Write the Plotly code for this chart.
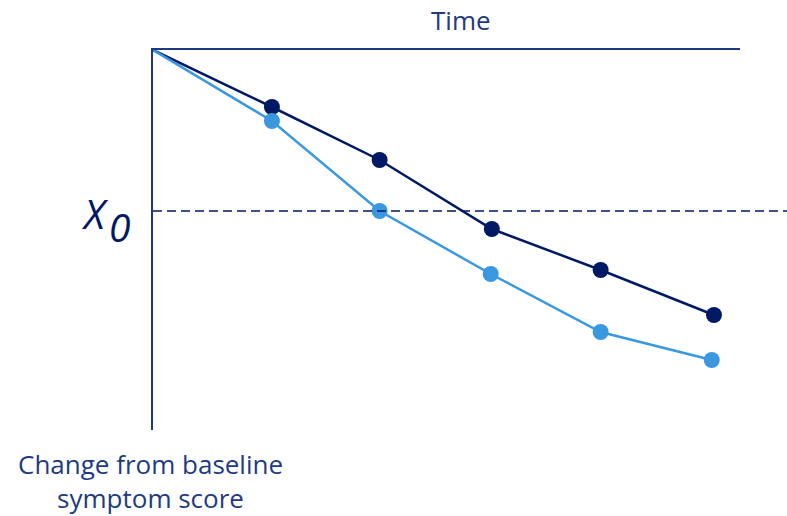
import plotly.graph_objects as go

# Data (arbitrary units, y negative = decrease)
time_dark = [0, 1.06, 2.02, 3.02, 3.99, 5.00]
score_dark = [0, -0.57, -1.10, -1.79, -2.20, -2.65]
time_light = [0, 1.06, 2.02, 3.01, 3.99, 4.98]
score_light = [0, -0.71, -1.61, -2.24, -2.82, -3.10]
x0_level = -1.61

x_range = [0, 5.232]
y_range = [-3.8, 0]

DARK = "#001965"
LIGHT = "#3a98de"
TEXT = "#1f3a7f"
FONT = "Open Sans"

fig = go.Figure()
for xs, ys, c in [(time_dark, score_dark, DARK), (time_light, score_light, LIGHT)]:
    fig.add_trace(go.Scatter(
        x=xs, y=ys, mode="lines+markers",
        line=dict(color=c, width=2.5),
        marker=dict(color=c, size=[0] + [16] * (len(xs) - 1), opacity=1, line=dict(width=0)),
        cliponaxis=False, showlegend=False, hoverinfo="skip",
    ))

# dashed X0 reference line, extends beyond the time axis
fig.add_shape(type="line", xref="paper", yref="y", x0=0, x1=(787 - 153) / 587,
              y0=x0_level, y1=x0_level, line=dict(color=DARK, width=1.3, dash="9px,5px"))

fig.add_annotation(text="<i>X</i>", xref="paper", yref="y", x=0, y=x0_level,
                   xanchor="right", yanchor="middle", xshift=-42, yshift=-2, showarrow=False,
                   font=dict(family=FONT, size=40, color=DARK))
fig.add_annotation(text="<i>0</i>", xref="paper", yref="y", x=0, y=x0_level,
                   xanchor="left", yanchor="middle", xshift=-46, yshift=-15, showarrow=False,
                   font=dict(family=FONT, size=39, color=DARK))
fig.add_annotation(text="Time", xref="paper", yref="paper", x=(461 - 153) / 587, y=1,
                   xanchor="center", yanchor="bottom", yshift=10, showarrow=False,
                   font=dict(family=FONT, size=26, color=TEXT))
fig.add_annotation(text="Change from baseline<br>symptom score", xref="paper", yref="paper",
                   x=0, y=0, xanchor="center", yanchor="top", xshift=-3, yshift=-14,
                   showarrow=False, align="center",
                   font=dict(family=FONT, size=26, color=TEXT))

fig.update_layout(
    width=787, height=516,
    margin=dict(l=153, r=47, t=50, b=86),
    paper_bgcolor="white", plot_bgcolor="white",
    xaxis=dict(range=x_range, side="top", showline=True, linecolor=TEXT, linewidth=2,
               showgrid=False, zeroline=False, showticklabels=False, ticks=""),
    yaxis=dict(range=y_range, showline=True, linecolor=TEXT, linewidth=2,
               showgrid=False, zeroline=False, showticklabels=False, ticks=""),
)

# remove the page's default body margin so the figure fills the window exactly
fig.write_html("out.html", config={"displayModeBar": False},
               post_script="document.body.style.margin='0';")
